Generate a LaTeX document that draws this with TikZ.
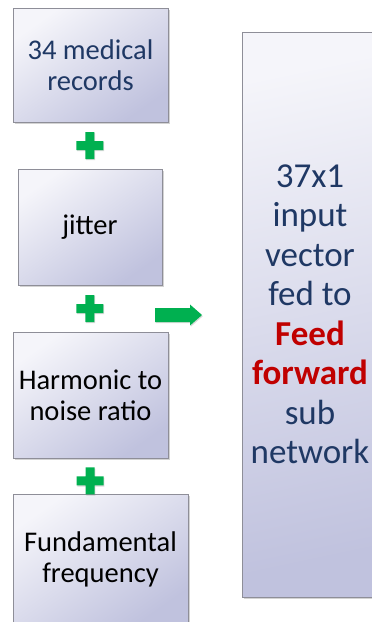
\documentclass[tikz,border=0pt]{standalone}
\usepackage{fontspec}
\setmainfont{Carlito}
\usetikzlibrary{shadows}
\definecolor{navy}{HTML}{1F3864}
\definecolor{boxlight}{HTML}{F5F5FA}
\definecolor{boxdark}{HTML}{C0C2DE}
\definecolor{plusgreen}{HTML}{00B050}
\definecolor{redtxt}{HTML}{C00000}
\definecolor{edgegray}{HTML}{8E8E98}
\begin{document}
\begin{tikzpicture}[x=1pt,y=-1pt,
  featbox/.style={draw=edgegray, line width=0.8pt,
    top color=boxlight, bottom color=boxdark, shading angle=35,
    drop shadow={shadow xshift=1.5pt, shadow yshift=-2pt, opacity=0.35},
    align=center, inner sep=0pt, font=\fontsize{28.5}{31}\selectfont},
  bigbox/.style={featbox, shading angle=12, text=navy,
    font=\fontsize{35}{39.5}\selectfont},
  greenmark/.style={fill=plusgreen,
    drop shadow={shadow xshift=0.8pt, shadow yshift=-1.2pt, opacity=0.3}},
  plusmark/.pic={
    \path[greenmark] (-4.5,-13.5) -- (4.5,-13.5) -- (4.5,-4.5) -- (13.5,-4.5)
      -- (13.5,4.5) -- (4.5,4.5) -- (4.5,13.5) -- (-4.5,13.5) -- (-4.5,4.5)
      -- (-13.5,4.5) -- (-13.5,-4.5) -- (-4.5,-4.5) -- cycle;},
  arrowmark/.pic={
    \path[greenmark] (0,-7) -- (35,-7) -- (35,-10.5) -- (47,0) -- (35,10.5)
      -- (35,7) -- (0,7) -- cycle;}
]
\useasboundingbox (0,0) rectangle (372,622);

% input feature boxes
\node[featbox, minimum width=155pt, minimum height=114pt, text=navy]
  (rec) at (90.5,65) {34 medical\\records};
\node[featbox, minimum width=144pt, minimum height=116pt]
  (jit) at (90,227) {jitter};
\node[featbox, minimum width=155pt, minimum height=126pt]
  (hnr) at (90.5,395) {Harmonic to\\noise ratio};
\node[featbox, minimum width=175pt, minimum height=130pt]
  (fund) at (100.5,559) {Fundamental\\frequency};

% combined input vector
\node[bigbox, minimum width=136pt, minimum height=565pt]
  (vec) at (310,314.5)
  {37x1\\input\\vector\\fed to\\{\color{redtxt}\bfseries Feed}\\{\color{redtxt}\bfseries forward}\\sub\\network};

% plus signs between the boxes
\path (rec.south) -- (jit.north) coordinate[pos=0.5] (p1);
\path (jit.south) -- (hnr.north) coordinate[pos=0.5] (p2);
\path (hnr.south) -- (hnr.south |- fund.north) coordinate[pos=0.64] (p3);
\foreach \p in {p1,p2,p3} \pic at ([xshift=-0.5pt]\p) {plusmark};

% arrow towards the combined vector
\coordinate (arr) at (155,315);
\pic at (arr) {arrowmark};
\end{tikzpicture}
\end{document}
